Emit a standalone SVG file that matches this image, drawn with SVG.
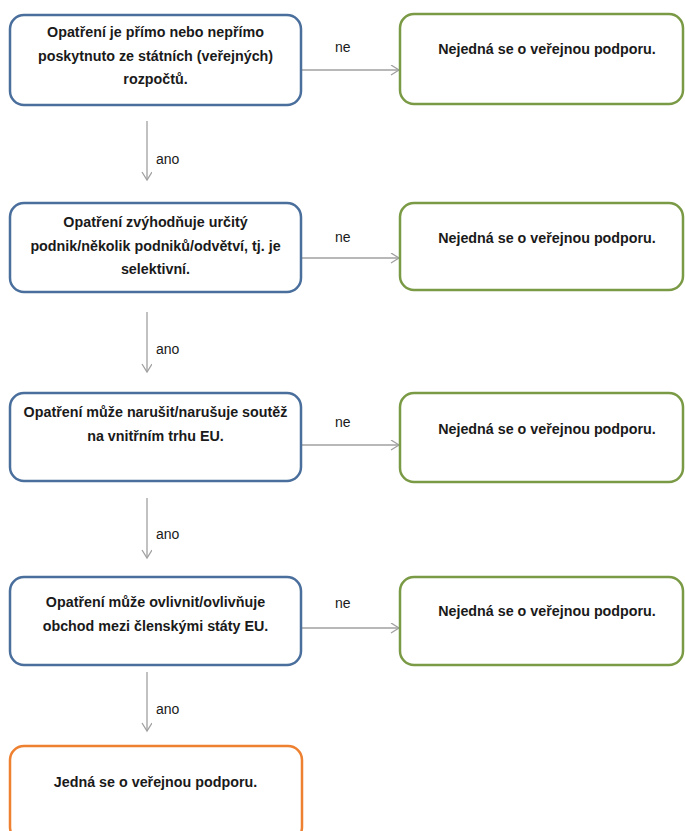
<svg xmlns="http://www.w3.org/2000/svg" width="685" height="831" viewBox="0 0 685 831">
<style>
.q{fill:#fff;stroke:#4a6f9c;stroke-width:2.5}
.n{fill:#fff;stroke:#7a9a45;stroke-width:2.5}
.y{fill:#fff;stroke:#ee8131;stroke-width:2.5}
.t{font-family:"Liberation Sans",Arial,sans-serif;font-weight:bold;font-size:14.3px;fill:#1a1a1a;text-anchor:middle}
.l{font-family:"Liberation Sans",Arial,sans-serif;font-size:14px;fill:#1a1a1a}
.c{stroke:#a0a0a0;stroke-width:1.3;fill:none;marker-end:url(#ah)}
</style>
<defs>
<marker id="ah" markerWidth="12" markerHeight="12" refX="9" refY="5" orient="auto" markerUnits="userSpaceOnUse">
<path d="M1,0 L9,5 L1,10" fill="none" stroke="#a0a0a0" stroke-width="1.3"/>
</marker>
</defs>
<rect width="685" height="831" fill="#fff"/>
<g id="connectors">
<line class="c" x1="302" y1="70" x2="399" y2="70"/>
<line class="c" x1="302" y1="258" x2="399" y2="258"/>
<line class="c" x1="302" y1="445" x2="399" y2="445"/>
<line class="c" x1="302" y1="628" x2="399" y2="628"/>
<line class="c" x1="147" y1="121" x2="147" y2="180"/>
<line class="c" x1="147" y1="312" x2="147" y2="372"/>
<line class="c" x1="147" y1="498" x2="147" y2="558"/>
<line class="c" x1="147" y1="672" x2="147" y2="731"/>
<text class="l" x="335" y="52">ne</text>
<text class="l" x="335" y="242">ne</text>
<text class="l" x="335" y="427">ne</text>
<text class="l" x="335" y="608">ne</text>
<text class="l" x="156" y="164">ano</text>
<text class="l" x="156" y="354">ano</text>
<text class="l" x="156" y="539">ano</text>
<text class="l" x="156" y="714">ano</text>
</g>
<g id="q1">
<rect class="q" x="10" y="15" width="291" height="90" rx="14"/>
<text class="t" x="155.5" y="37">Opatření je přímo nebo nepřímo</text>
<text class="t" x="155.5" y="61">poskytnuto ze státních (veřejných)</text>
<text class="t" x="155.5" y="84">rozpočtů.</text>
</g>
<g id="n1">
<rect class="n" x="400" y="14" width="283" height="90" rx="14"/>
<text class="t" x="547" y="54">Nejedná se o veřejnou podporu.</text>
</g>
<g id="q2">
<rect class="q" x="10" y="203" width="291" height="89" rx="14"/>
<text class="t" x="155.5" y="227">Opatření zvýhodňuje určitý</text>
<text class="t" x="155.5" y="251">podnik/několik podniků/odvětví, tj. je</text>
<text class="t" x="155.5" y="274">selektivní.</text>
</g>
<g id="n2">
<rect class="n" x="400" y="203" width="283" height="87" rx="14"/>
<text class="t" x="547" y="243">Nejedná se o veřejnou podporu.</text>
</g>
<g id="q3">
<rect class="q" x="10" y="393" width="291" height="88" rx="14"/>
<text class="t" x="155.5" y="417">Opatření může narušit/narušuje soutěž</text>
<text class="t" x="155.5" y="441">na vnitřním trhu EU.</text>
</g>
<g id="n3">
<rect class="n" x="400" y="393" width="283" height="89" rx="14"/>
<text class="t" x="547" y="434">Nejedná se o veřejnou podporu.</text>
</g>
<g id="q4">
<rect class="q" x="10" y="577" width="291" height="88" rx="14"/>
<text class="t" x="155.5" y="607">Opatření může ovlivnit/ovlivňuje</text>
<text class="t" x="155.5" y="631">obchod mezi členskými státy EU.</text>
</g>
<g id="n4">
<rect class="n" x="400" y="577" width="283" height="88" rx="14"/>
<text class="t" x="547" y="616">Nejedná se o veřejnou podporu.</text>
</g>
<g id="yes">
<rect class="y" x="10" y="746" width="292" height="95" rx="14"/>
<text class="t" x="155.5" y="787">Jedná se o veřejnou podporu.</text>
</g>
</svg>
